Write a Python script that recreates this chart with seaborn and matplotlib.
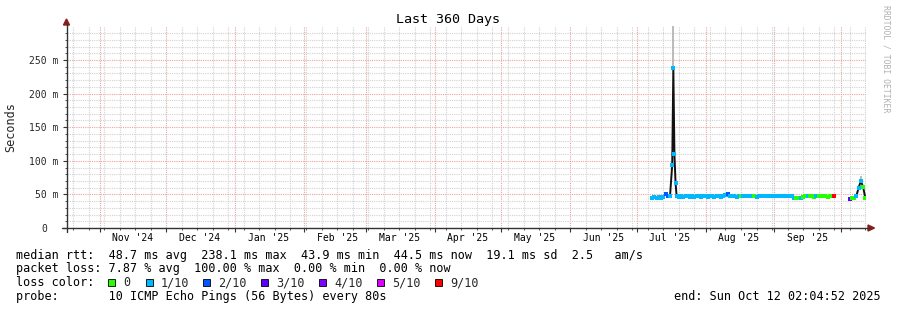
import numpy as np
import pandas as pd
import matplotlib
matplotlib.use("Agg")
import matplotlib.pyplot as plt
import matplotlib.transforms as mtransforms
from matplotlib.patches import Rectangle, Polygon
from matplotlib.lines import Line2D
import seaborn as sns

# ---------------- data ----------------
title = "Last 360 Days"
end_time = pd.Timestamp("2025-10-12 02:04:52")
start_time = end_time - pd.Timedelta(days=360)

# segment 1: daily medians (ms), Jul 8 .. Sep 28 2025
seg1_start = "2025-07-08"
seg1_values = [45, 46, 45, 46, 45, 46, 51, 48, 47, 94, 110, 47,
               46, 47, 46, 47, 47, 46, 47, 46, 47, 47, 46, 47,
               47, 46, 47, 47, 46, 47, 47, 46, 47, 49, 51, 47, 47, 47, 46, 47,
               47, 47, 47, 47, 47, 47, 47, 46, 47, 47, 47, 47, 47, 47, 47,
               47, 47, 47, 47, 47, 47, 47, 47, 47, 45, 44, 44, 45, 46, 47, 47,
               47, 47, 46, 47, 47, 47, 47, 47, 46, 47, 47, 47]
seg1_loss = [1, 1, 1, 1, 1, 1, 2, 2, 1, 1, 1, 1,
             1, 1, 1, 1, 1, 1, 1, 1, 1, 1, 1, 1,
             1, 1, 1, 1, 1, 1, 1, 1, 1, 1, 2, 1, 1, 1, 1, 1,
             0, 1, 1, 1, 1, 1, 0, 1, 1, 1, 1, 1, 1, 1, 1,
             1, 1, 1, 1, 1, 1, 1, 1, 1, 1, 0, 0, 1, 0, 0, 1,
             0, 0, 0, 1, 0, 0, 0, 0, 0, 0, 0, 9]
# extra sub-day points around the July spike
spike_dates = ["2025-07-17 12:00", "2025-07-18 12:00"]
spike_values = [238, 67]
spike_loss = [1, 1]

# segment 2: Oct 5 .. Oct 12 2025
seg2_start = "2025-10-05"
seg2_values = [43, 44, 45, 48, 60, 70, 61, 45]
seg2_loss = [3, 0, 0, 1, 1, 1, 0, 0]

# smoke (min/max spread) visible above the median
smoke_dates = ["2025-07-17 12:00", "2025-10-10 00:00"]
smoke_lo = [241, 66]
smoke_hi = [300, 78]

loss_levels = [0, 1, 2, 3, 4, 5, 9]
loss_labels = ["0", "1/10", "2/10", "3/10", "4/10", "5/10", "9/10"]
loss_colors = ["#26ff00", "#00b8ff", "#0059ff", "#5e00ff", "#7e00ff", "#dd00ff", "#ff0000"]

month_labels = ["Nov '24", "Dec '24", "Jan '25", "Feb '25", "Mar '25", "Apr '25",
                "May '25", "Jun '25", "Jul '25", "Aug '25", "Sep '25"]
y_ticks = [0, 50, 100, 150, 200, 250]
y_labels = ["0", "50 m", "100 m", "150 m", "200 m", "250 m"]

legend_rows = [
    "median rtt:  48.7 ms avg  238.1 ms max  43.9 ms min  44.5 ms now  19.1 ms sd  2.5   am/s",
    "packet loss: 7.87 % avg  100.00 % max  0.00 % min  0.00 % now",
    "loss color:",
    "probe:       10 ICMP Echo Pings (56 Bytes) every 80s",
]
end_text = "end: Sun Oct 12 02:04:52 2025"

# ---------------- frames ----------------
d1 = pd.DataFrame({"t": pd.date_range(seg1_start, periods=len(seg1_values), freq="D"),
                   "v": seg1_values, "loss": seg1_loss})
dsp = pd.DataFrame({"t": pd.to_datetime(spike_dates), "v": spike_values, "loss": spike_loss})
d1 = pd.concat([d1, dsp]).sort_values("t").reset_index(drop=True)
d2 = pd.DataFrame({"t": pd.date_range(seg2_start, periods=len(seg2_values), freq="D"),
                   "v": seg2_values, "loss": seg2_loss})
lab_map = dict(zip(loss_levels, loss_labels))
pal = dict(zip(loss_labels, loss_colors))
for d in (d1, d2):
    d["lossl"] = d["loss"].map(lab_map)

# ---------------- figure ----------------
sns.set_theme(style="white")
plt.rcParams["font.family"] = ["DejaVu Sans Mono", "DejaVu Sans"]

W, H = 897, 310
fig = plt.figure(figsize=(W / 100, H / 100), dpi=100)
fig.patch.set_facecolor("white")

X0, X1 = 66.5, 865.5
Y0, Y1 = 228.0, 26.4
def fx(px):
    return px / W
def fy(py):
    return 1 - py / H

ax = fig.add_axes([fx(X0), fy(Y0), (X1 - X0) / W, (Y0 - Y1) / H])
ax.set_facecolor("white")
ax.set_xlim(start_time, end_time)
ax.set_ylim(0, 300)

# grid
months = pd.date_range("2024-11-01", "2025-10-01", freq="MS")
weeks = pd.date_range(start_time.normalize(), end_time, freq="W-SUN")
ax.set_xticks(months)
ax.set_xticklabels([""] * len(months))
ax.set_xticks(weeks, minor=True)
ax.set_yticks(y_ticks)
ax.set_yticklabels(y_labels)
ax.set_yticks([v for v in range(10, 300, 10) if v % 50 != 0], minor=True)
ax.grid(which="minor", color="#d2d2d2", linestyle=(0, (1, 1)), linewidth=0.8)
ax.grid(which="major", color="#eba3a3", linestyle=(0, (1, 1)), linewidth=0.8)
ax.set_axisbelow(True)
for s in ax.spines.values():
    s.set_visible(False)
ax.tick_params(axis="y", which="major", direction="out", length=3, width=0.8,
               color="#333333", labelsize=7, pad=2.5, left=True)
ax.tick_params(axis="y", which="minor", length=1.5, width=0.6, color="#333333", left=True)
ax.tick_params(axis="x", which="major", direction="out", length=3, width=0.8,
               color="#333333", bottom=True)
ax.tick_params(axis="x", which="minor", length=1.5, width=0.6, color="#333333", bottom=True)
# align "0" with the numbers of the other labels
lbl0 = ax.get_yticklabels()[0]
lbl0.set_transform(lbl0.get_transform() +
                   mtransforms.ScaledTranslation(-11.8 / 100, 0, fig.dpi_scale_trans))

# month labels in the middle of each month
lab_dates = pd.date_range("2024-11-01", "2025-09-01", freq="MS") + pd.Timedelta(days=15)
for dt, txt in zip(lab_dates, month_labels):
    ax.text(dt, -(238 - Y0) / (Y0 - Y1), txt, transform=ax.get_xaxis_transform(),
            ha="center", va="center", fontsize=7, color="black")

# smoke
ax.vlines(pd.to_datetime(smoke_dates), smoke_lo, smoke_hi, color="#b5b5b5", linewidth=1.3, zorder=1.5)

# median: black connecting line + loss-coloured points
for d in (d1, d2):
    sns.lineplot(data=d, x="t", y="v", color="#111111", linewidth=1.4, ax=ax,
                 estimator=None, sort=False, zorder=2)
    sns.scatterplot(data=d, x="t", y="v", hue="lossl", palette=pal, marker="s", s=8.5,
                    linewidth=0, legend=False, ax=ax, zorder=3)
ax.set_xlabel("")
ax.set_ylabel("")

# axes lines and arrows
axis_col = "#333333"
arrow_col = "#8b1c1c"
fig.add_artist(Line2D([fx(X0), fx(X0)], [fy(232), fy(24)], color=axis_col, lw=1.0,
                      transform=fig.transFigure))
fig.add_artist(Line2D([fx(62), fx(870)], [fy(Y0), fy(Y0)], color=axis_col, lw=1.0,
                      transform=fig.transFigure))
fig.add_artist(Polygon([[fx(63.5), fy(25)], [fx(69.5), fy(25)], [fx(66.5), fy(19)]],
                       closed=True, color=arrow_col, transform=fig.transFigure))
fig.add_artist(Polygon([[fx(868), fy(225)], [fx(868), fy(231)], [fx(874.5), fy(228)]],
                       closed=True, color=arrow_col, transform=fig.transFigure))

# texts
fig.text(fx(448), fy(19), title, ha="center", va="center", fontsize=9.6, color="black")
fig.text(fx(11), fy(127), "Seconds", rotation=90, ha="center", va="center", fontsize=8.5)
fig.text(fx(886), fy(59), "RRDTOOL / TOBI OETIKER", rotation=270, ha="center", va="center",
         fontsize=5.9, color="#b0b0b0")

row_y = [255, 268.5, 282.5, 296.5]
for txt, yy in zip(legend_rows, row_y):
    fig.text(fx(16), fy(yy), txt, ha="left", va="center", fontsize=8.5, color="black")
fig.text(fx(880.5), fy(row_y[3]), end_text, ha="right", va="center", fontsize=8.5, color="black")

# loss colour boxes
box_x = [108, 146, 203, 261, 319, 377, 435]
for bx, lab, col in zip(box_x, loss_labels, loss_colors):
    fig.add_artist(Rectangle((fx(bx), fy(286)), 7 / W, 7 / H, facecolor=col,
                             edgecolor="black", linewidth=0.6, transform=fig.transFigure))
    fig.text(fx(bx + 15), fy(row_y[2]), lab, ha="left", va="center", fontsize=8.5)

fig.savefig("out.png", dpi=100, facecolor="white")
